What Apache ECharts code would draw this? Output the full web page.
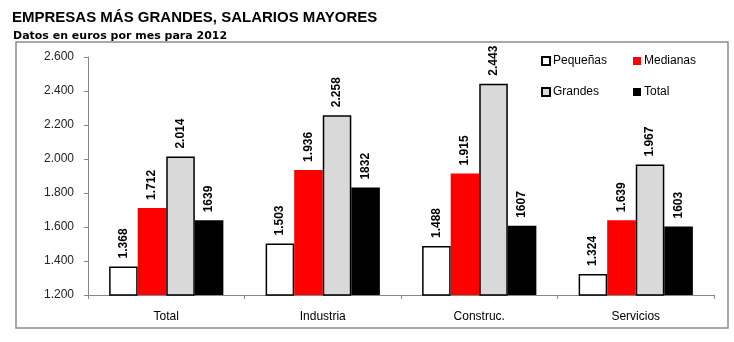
<!DOCTYPE html>
<html>
<head>
<meta charset="utf-8">
<script src="https://cdn.jsdelivr.net/npm/echarts@6/dist/echarts.min.js"></script>
<style>
html,body{margin:0;padding:0;background:#fff;}
#c{width:734px;height:342px;}
</style>
</head>
<body>
<div id="c"></div>
<script>
var categories = ['Total', 'Industria', 'Construc.', 'Servicios'];
var pequenas = [1368, 1503, 1488, 1324];
var medianas = [1712, 1936, 1915, 1639];
var grandes = [2014, 2258, 2443, 1967];
var total = [1639, 1832, 1607, 1603];
var yTicks = [1200, 1400, 1600, 1800, 2000, 2200, 2400, 2600];

function fmtDot(v) {
  var s = String(Math.round(v));
  return s.replace(/\B(?=(\d{3})+(?!\d))/g, '.');
}

var FF = 'Arial, Liberation Sans, sans-serif';
var chart = echarts.init(document.getElementById('c'), null, {renderer: 'canvas'});
var labelBase = {
  show: true, position: 'top', rotate: 90, align: 'left', verticalAlign: 'middle',
  distance: 8, fontFamily: FF, fontSize: 12,
  fontWeight: 'bold', color: '#000'
};
function legendAt(name, left, top) {
  return {
    data: [name], left: left, top: top, itemWidth: 8, itemHeight: 8, itemGap: 0,
    padding: 0, textStyle: {fontFamily: FF, fontSize: 12, color: '#000', padding: [0, 0, 0, -2]},
    selectedMode: false, icon: 'rect'
  };
}
chart.setOption({
  animation: false,
  backgroundColor: '#fff',
  title: [
    {text: 'EMPRESAS MÁS GRANDES, SALARIOS MAYORES', left: 7, top: 5,
     textStyle: {fontFamily: FF, fontSize: 15, fontWeight: 'bold', color: '#000'}},
    {text: 'Datos en euros por mes para 2012', left: 8, top: 26,
     textStyle: {fontFamily: 'DejaVu Sans, sans-serif', fontSize: 11, fontWeight: 'bold', color: '#000'}}
  ],
  graphic: [
    {type: 'rect', shape: {x: 16, y: 42, width: 712, height: 286},
     style: {fill: 'none', stroke: '#8c8c8c', lineWidth: 1.5}, silent: true, z: -1}
  ],
  legend: [
    legendAt('Pequeñas', 541, 55),
    legendAt('Medianas', 633, 55),
    legendAt('Grandes', 541, 86),
    legendAt('Total', 633, 86)
  ],
  grid: {left: 88, right: 20, top: 57, bottom: 47, containLabel: false},
  xAxis: {
    type: 'category', data: categories,
    axisLine: {lineStyle: {color: '#888', width: 1}},
    axisTick: {show: true, length: 4, lineStyle: {color: '#888'}},
    axisLabel: {fontFamily: FF, fontSize: 12, color: '#000', margin: 16}
  },
  yAxis: {
    type: 'value', min: 1200, max: 2600, interval: 200,
    axisLine: {show: true, lineStyle: {color: '#888', width: 1}},
    axisTick: {show: true, length: 4, lineStyle: {color: '#888'}},
    splitLine: {show: false},
    axisLabel: {fontFamily: FF, fontSize: 12, color: '#222', margin: 14,
      formatter: function (v) { return fmtDot(v); }}
  },
  series: [
    {name: 'Pequeñas', type: 'bar', data: pequenas, barGap: '0%', barCategoryGap: '27%',
     itemStyle: {color: '#ffffff', borderColor: '#000', borderWidth: 1.5},
     label: Object.assign({}, labelBase, {formatter: function (p) { return fmtDot(p.value); }})},
    {name: 'Medianas', type: 'bar', data: medianas, barGap: '0%', barCategoryGap: '27%',
     itemStyle: {color: '#ff0000'},
     label: Object.assign({}, labelBase, {formatter: function (p) { return fmtDot(p.value); }})},
    {name: 'Grandes', type: 'bar', data: grandes, barGap: '0%', barCategoryGap: '27%',
     itemStyle: {color: '#d9d9d9', borderColor: '#000', borderWidth: 1.5},
     label: Object.assign({}, labelBase, {formatter: function (p) { return fmtDot(p.value); }})},
    {name: 'Total', type: 'bar', data: total, barGap: '0%', barCategoryGap: '27%',
     itemStyle: {color: '#000000'},
     label: Object.assign({}, labelBase, {formatter: function (p) { return String(p.value); }})}
  ]
});
</script>
</body>
</html>
